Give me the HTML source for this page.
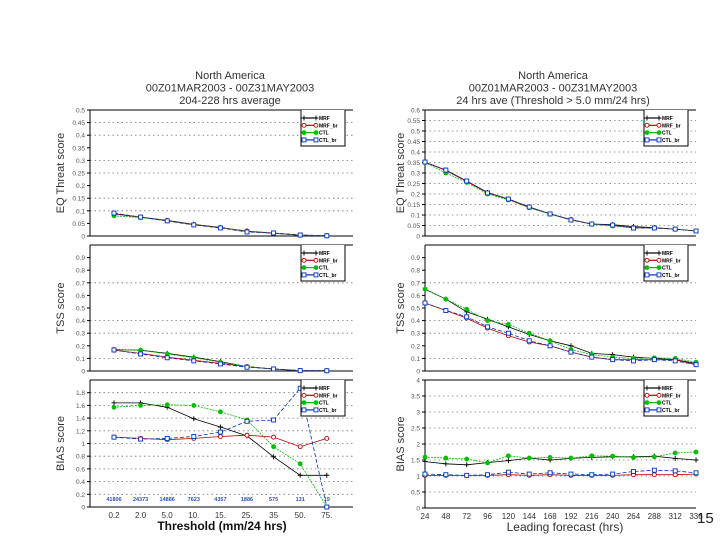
<!DOCTYPE html>
<html><head><meta charset="utf-8">
<style>
body{margin:0;background:#fff;}
svg{display:block;font-family:"Liberation Sans",sans-serif;}
</style></head>
<body>
<svg id="c" width="720" height="540" viewBox="0 0 720 540"></svg>
<script>
const thrCats=["0.2","2.0","5.0","10.","15.","25.","35","50.","75."];
const leadCats=["24","48","72","96","120","144","168","192","216","240","264","288","312","336"];
const seriesNames=["MRF","MRF_br","CTL","CTL_br"];
const counts=["41806","24373","14886","7623","4357","1886","575","131","19"];

const lFqMRF=[0.088,0.075,0.062,0.046,0.034,0.018,0.011,0.003,0.001];
const lFqMRFbr=[0.088,0.074,0.061,0.045,0.033,0.02,0.011,0.003,0.001];
const lFqCTL=[0.08,0.073,0.06,0.044,0.033,0.018,0.011,0.003,0.001];
const lFqCTLbr=[0.091,0.075,0.06,0.044,0.032,0.016,0.012,0.004,0.001];

const lTssMRF=[0.17,0.165,0.14,0.11,0.075,0.035,0.016,0.003,0.002];
const lTssMRFbr=[0.165,0.14,0.11,0.085,0.06,0.035,0.016,0.003,0.002];
const lTssCTL=[0.17,0.165,0.135,0.105,0.07,0.035,0.015,0.003,0.002];
const lTssCTLbr=[0.167,0.135,0.105,0.08,0.056,0.03,0.016,0.003,0.002];

const lBiasMRF=[1.64,1.64,1.57,1.39,1.26,1.12,0.79,0.5,0.5];
const lBiasMRFbr=[1.1,1.08,1.06,1.08,1.11,1.13,1.1,0.95,1.08];
const lBiasCTL=[1.57,1.6,1.61,1.6,1.5,1.37,0.95,0.68,0.0];
const lBiasCTLbr=[1.1,1.07,1.08,1.11,1.18,1.35,1.37,1.87,0.0];

const rFqMRF=[0.352,0.314,0.262,0.207,0.176,0.138,0.105,0.078,0.057,0.054,0.045,0.04,0.033,0.024];
const rFqMRFbr=[0.352,0.312,0.26,0.205,0.175,0.135,0.105,0.078,0.057,0.05,0.04,0.038,0.033,0.024];
const rFqCTL=[0.35,0.3,0.255,0.2,0.172,0.135,0.104,0.076,0.056,0.048,0.038,0.038,0.033,0.024];
const rFqCTLbr=[0.352,0.314,0.262,0.205,0.176,0.138,0.105,0.076,0.057,0.052,0.038,0.038,0.033,0.024];

const rTssMRF=[0.65,0.57,0.47,0.41,0.35,0.29,0.24,0.2,0.14,0.13,0.11,0.1,0.09,0.06];
const rTssMRFbr=[0.54,0.48,0.42,0.34,0.28,0.23,0.2,0.15,0.11,0.09,0.09,0.09,0.09,0.05];
const rTssCTL=[0.65,0.57,0.49,0.4,0.37,0.3,0.24,0.17,0.13,0.11,0.1,0.105,0.1,0.07];
const rTssCTLbr=[0.54,0.48,0.43,0.35,0.3,0.24,0.2,0.15,0.11,0.09,0.08,0.09,0.08,0.05];

const rBiasMRF=[1.45,1.38,1.35,1.42,1.48,1.56,1.5,1.55,1.58,1.6,1.6,1.62,1.55,1.5];
const rBiasMRFbr=[1.02,1.02,1.02,1.02,1.04,1.02,1.04,1.02,1.02,1.02,1.04,1.04,1.04,1.06];
const rBiasCTL=[1.59,1.56,1.53,1.41,1.63,1.56,1.58,1.56,1.63,1.62,1.58,1.6,1.72,1.75];
const rBiasCTLbr=[1.06,1.04,1.02,1.04,1.12,1.06,1.1,1.06,1.04,1.06,1.14,1.18,1.16,1.1];

const fqLTicks=["0","0.05","0.1","0.15","0.2","0.25","0.3","0.35","0.4","0.45","0.5"];
const fqRTicks=["0","0.05","0.1","0.15","0.2","0.25","0.3","0.35","0.4","0.45","0.5","0.55","0.6"];
const tssTicks=["0","0.1","0.2","0.3","0.4","0.5","0.6","0.7","0.8","0.9"];
const biasLTicks=["0","0.2","0.4","0.6","0.8","1","1.2","1.4","1.6","1.8"];
const biasRTicks=["0","0.5","1","1.5","2","2.5","3","3.5","4"];

const NS="http://www.w3.org/2000/svg";
const svg=document.getElementById('c');
function mk(tag,attrs,parent){const e=document.createElementNS(NS,tag);for(const k in attrs)e.setAttribute(k,attrs[k]);(parent||svg).appendChild(e);return e;}
const colors=["#000","#c00000","#00c000","#0030c0"];
const marks=["plus","ocircle","dot","osquare"];

function marker(g,type,x,y,c){
  let e;
  if(type==="plus"){e=mk('path',{d:`M${x-2.5} ${y}H${x+2.5}M${x} ${y-2.5}V${y+2.5}`,stroke:c,'stroke-width':0.9},g);}
  else if(type==="ocircle"){e=mk('circle',{cx:x,cy:y,r:2,fill:'#fff',stroke:c,'stroke-width':0.9},g);}
  else if(type==="dot"){e=mk('circle',{cx:x,cy:y,r:2.4,fill:c},g);}
  else {e=mk('rect',{x:x-2,y:y-2,width:4,height:4,fill:'#fff',stroke:c,'stroke-width':0.9},g);}
  
  
}

function panel(o){
  const g=mk('g',{});
  
  
  const {x0,x1,y0,y1,ymax,nCat,padL,step}=o;
  const xs=i=>x0+padL+step*i;
  const ys=v=>y1-(v/ymax)*(y1-y0);
  o.grid.forEach(v=>{const l=mk('line',{x1:x0,x2:x1,y1:ys(v),y2:ys(v),stroke:'#777','stroke-width':0.8,'stroke-dasharray':'1.5,3'},g);
    });
  const ax=mk('path',{d:`M${x0} ${y0}V${y1}H${x1}M${x0} ${y0}H${x1}`,stroke:'#000','stroke-width':1,fill:'none'},g);
  
  o.ticks.forEach((t,i)=>{const v=parseFloat(t);const y=ys(v);
    mk('line',{x1:x0-3,x2:x0,y1:y,y2:y,stroke:'#000'},g);
    const tx=mk('text',{x:x0-5,y:y+2.5,'font-size':6.5,'text-anchor':'end',fill:'#555'},g);
    tx.textContent=t;});
  const yt=mk('text',{x:o.ytx,y:(y0+y1)/2,'font-size':11,'text-anchor':'middle',fill:'#333',transform:`rotate(-90 ${o.ytx} ${(y0+y1)/2})`},g);
  yt.textContent=o.ytitle;
  if(o.xlabels){o.xlabels.forEach((t,i)=>{const tx=mk('text',{x:xs(i),y:y1+11,'font-size':8,'text-anchor':'middle',fill:'#333'},g);
    tx.textContent=t;});}
  o.series.forEach((s,k)=>{const sg=mk('g',{},g);
    
    
    const d=s.map((v,i)=>(i?'L':'M')+xs(i).toFixed(1)+' '+ys(v).toFixed(1)).join('');
    mk('path',{d:d,fill:'none',stroke:colors[k],'stroke-width':0.8,'stroke-dasharray':k===3?'4,2':(k===2?'2,1':'none')},sg);
    s.forEach((v,i)=>marker(sg,marks[k],xs(i),ys(v),colors[k]));});
  const lg=mk('g',{},g);
  const lx=x1-52,ly=y0;
  mk('path',{d:`M${lx} ${ly}V${ly+36}H${lx+44}V${ly}`,fill:'#fff',stroke:'#000','stroke-width':1},lg);
  seriesNames.forEach((n,k)=>{const y=ly+8+k*7.3;
    const en=mk('g',{},lg);
    mk('line',{x1:lx+2,x2:lx+16,y1:y,y2:y,stroke:colors[k],'stroke-width':1.2},en);
    marker(en,marks[k],lx+3,y,colors[k]);marker(en,marks[k],lx+15,y,colors[k]);
    const t=mk('text',{x:lx+18,y:y+2,'font-size':5,'font-weight':'bold',fill:'#000'},en);t.textContent=n;});
  return {g,xs,ys};
}

function title(x,lines,name){const g=mk('g',{});
  lines.forEach((t,i)=>{const e=mk('text',{x:x,y:79+i*12.5,'font-size':11,'text-anchor':'middle',fill:'#333'},g);e.textContent=t;});}
title(230,["North America","00Z01MAR2003 - 00Z31MAY2003","204-228 hrs average"],'left-title');
title(553,["North America","00Z01MAR2003 - 00Z31MAY2003","24 hrs ave (Threshold  >  5.0 mm/24 hrs)"],'right-title');

const L={x0:90,x1:353,padL:24,step:26.6,nCat:9};
const R={x0:425,x1:696,padL:0,step:20.85,nCat:14};
panel(Object.assign({},L,{name:'left-fq-threat-panel',y0:110,y1:236,ymax:0.5,ticks:fqLTicks,grid:[0.45,0.4,0.3,0.25,0.15,0.1],ytitle:'EQ Threat score',ytx:64,series:[lFqMRF,lFqMRFbr,lFqCTL,lFqCTLbr]}));
panel(Object.assign({},L,{name:'left-tss-panel',y0:245,y1:371,ymax:1.0,ticks:tssTicks,grid:[0.7,0.4,0.3,0.1],ytitle:'TSS score',ytx:64,series:[lTssMRF,lTssMRFbr,lTssCTL,lTssCTLbr]}));
const lb=panel(Object.assign({},L,{name:'left-bias-panel',y0:380,y1:507,ymax:2.0,ticks:biasLTicks,grid:[1.8,1.6,1.4,1.2,1,0.8,0.6,0.4,0.2],ytitle:'BIAS score',ytx:64,xlabels:thrCats,series:[lBiasMRF,lBiasMRFbr,lBiasCTL,lBiasCTLbr]}));
counts.forEach((c,i)=>{const t=mk('text',{x:lb.xs(i),y:501,'font-size':5.5,'font-weight':'bold','text-anchor':'middle',fill:'#3050c0'});
  t.textContent=c;});
panel(Object.assign({},R,{name:'right-fq-threat-panel',y0:110,y1:236,ymax:0.6,ticks:fqRTicks,grid:[0.55,0.5,0.45,0.4,0.35,0.3,0.25,0.2,0.15,0.1,0.05],ytitle:'EQ Threat score',ytx:404,series:[rFqMRF,rFqMRFbr,rFqCTL,rFqCTLbr]}));
panel(Object.assign({},R,{name:'right-tss-panel',y0:245,y1:371,ymax:1.0,ticks:tssTicks,grid:[0.7,0.4,0.3,0.1],ytitle:'TSS score',ytx:404,series:[rTssMRF,rTssMRFbr,rTssCTL,rTssCTLbr]}));
panel(Object.assign({},R,{name:'right-bias-panel',y0:380,y1:508,ymax:4.0,ticks:biasRTicks,grid:[3.5,3,2.5,2,1.5,1,0.5],ytitle:'BIAS score',ytx:404,xlabels:leadCats,series:[rBiasMRF,rBiasMRFbr,rBiasCTL,rBiasCTLbr]}));

let t=mk('text',{x:222,y:530,'font-size':12,'font-weight':'bold','text-anchor':'middle',fill:'#111'});t.textContent='Threshold (mm/24 hrs)';

t=mk('text',{x:565,y:531,'font-size':12,'text-anchor':'middle',fill:'#333'});t.textContent='Leading forecast (hrs)';

t=mk('text',{x:697,y:523,'font-size':15,fill:'#222'});t.textContent='15';

</script>
</body></html>
